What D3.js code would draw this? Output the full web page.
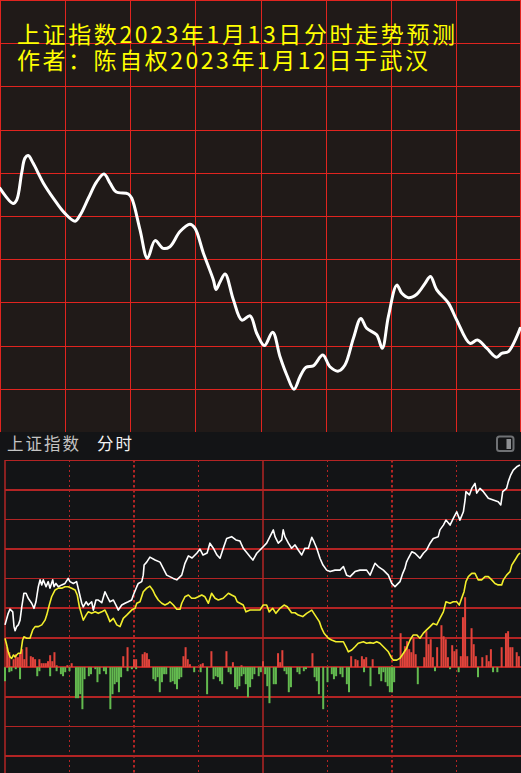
<!DOCTYPE html>
<html><head><meta charset="utf-8">
<script src="https://cdn.jsdelivr.net/npm/d3@7"></script>
<style>html,body{margin:0;padding:0;background:#131416;overflow:hidden}svg{display:block}</style>
</head><body>
<script>
// ---------- DATA ----------
const titleLines = ["上证指数2023年1月13日分时走势预测", "作者：陈自权2023年1月12日于武汉"];
const headerLabels = ["上证指数", "分时"];

// forecast curve (minute, level in grid rows)
const forecastPoints = [[0,5.64],[6.1,5.29],[7.7,5.37],[10,6.00],[11.5,6.34],[13,6.40],[15.3,6.22],[20,5.76],[24.6,5.41],[29.9,5.06],[34.6,4.88],[36.9,5.02],[40.7,5.41],[44.5,5.79],[47.9,5.97],[50.7,5.76],[53.4,5.56],[59.1,5.51],[60.7,5.41],[64.5,4.68],[67.9,4.02],[71.4,4.43],[75.2,4.25],[78.3,4.29],[82.9,4.64],[87.5,4.81],[89.8,4.72],[93.7,4.14],[98.3,3.52],[99.5,3.30],[101.4,3.48],[103.7,3.66],[107.5,3.06],[111.4,2.59],[115.2,2.69],[118.3,2.28],[121.8,2.00],[125.6,2.31],[129,1.74],[132.1,1.32],[135.4,0.99],[138.2,1.28],[141,1.50],[144.3,1.53],[148.7,1.78],[152,1.51],[155.9,1.41],[158.9,1.55],[162.8,2.17],[166.2,2.63],[168.9,2.40],[173.5,2.25],[176.1,1.94],[178.9,2.67],[182.8,3.40],[185.1,3.21],[188.1,3.11],[192,3.19],[195.8,3.44],[198.3,3.60],[201.2,3.29],[206.5,2.99],[210.4,2.59],[216.5,2.05],[219.9,2.13],[224.2,1.94],[228.8,1.73],[231.1,1.82],[234.2,1.86],[239.6,2.40]];

// intraday index line (white)
const priceLine = [[0,4.43],[1.5,4.82],[2.3,4.96],[3.6,4.87],[4.2,4.37],[4.7,4.23],[5.4,4.37],[6.2,4.43],[7,4.59],[7.8,5.04],[8.8,5.50],[9.8,5.50],[10.8,5.33],[12.4,5.16],[13.5,4.99],[14.4,5.21],[15.5,5.72],[16.3,5.95],[17.1,5.78],[17.8,5.95],[19.1,5.72],[20.1,5.89],[20.9,5.67],[22.2,5.95],[22.8,5.72],[23.7,5.83],[24.8,5.72],[26.4,5.78],[27.9,5.83],[29.4,6.00],[30.2,5.89],[31.8,5.83],[33.3,5.89],[34.6,5.50],[35.7,5.16],[36.4,5.04],[37.7,5.21],[38.7,5.10],[40.3,5.21],[41.1,4.93],[42.3,5.27],[43.4,5.27],[45,5.18],[46.5,5.55],[47.6,5.38],[48.8,5.21],[50.4,5.27],[52,5.04],[52.7,4.93],[54.3,5.10],[55.8,5.16],[57.3,5.21],[58.9,5.27],[59.7,5.44],[61.3,5.72],[62,5.83],[63.6,5.89],[64.3,6.11],[64.7,6.45],[65.9,6.55],[67.4,6.72],[69.8,6.62],[72.1,6.55],[73.6,6.34],[75.2,6.11],[78.3,6.00],[79.9,5.95],[82.2,6.11],[83.7,6.51],[85.3,6.76],[87,6.69],[89.3,6.86],[90.7,6.99],[92.1,6.79],[94,6.86],[95.3,7.19],[96.9,7.02],[98.6,6.79],[100,6.68],[101.4,6.99],[103.1,7.35],[105.4,7.41],[107.4,7.30],[109.3,7.26],[110.8,7.02],[112.6,6.86],[114,6.73],[115.3,6.62],[117.1,6.85],[118.6,6.96],[120.1,7.07],[121.7,7.19],[124,7.52],[124.8,7.64],[125.6,7.41],[127.1,7.19],[128.7,7.30],[129.4,7.64],[130.2,7.41],[131.8,7.19],[133.3,7.02],[134.9,7.13],[136.4,6.96],[138,6.79],[139.5,7.02],[141.1,7.02],[142.7,7.39],[143.7,7.24],[145,7.02],[146.5,6.68],[147.9,6.45],[149.6,6.28],[151.2,6.23],[153.5,6.28],[155.8,6.28],[157.4,6.40],[158.9,6.11],[160.5,6.06],[162.8,6.23],[165.1,6.28],[168.2,6.28],[169.8,6.11],[172.1,6.51],[173.6,6.40],[176,6.28],[178.3,6.11],[179.9,5.83],[181.4,5.72],[182.2,5.78],[183.7,5.89],[185,6.17],[186,6.34],[186.8,6.56],[187.6,6.68],[189.2,6.90],[190.7,6.85],[193,6.68],[194.6,6.85],[196.1,6.96],[197.7,7.19],[199.2,7.35],[201.5,7.41],[202.3,7.64],[203.9,7.80],[205.1,7.97],[207,7.80],[208.5,8.03],[210.1,8.25],[211.6,7.97],[213.2,8.25],[214,8.65],[214.4,8.93],[216,8.82],[217.1,9.04],[218.6,9.21],[219.4,8.88],[220.9,9.04],[222.5,8.93],[224.8,8.71],[227.1,8.65],[229.4,8.59],[230.6,8.48],[231.5,8.93],[233.3,9.04],[234.1,9.27],[235.2,9.49],[236.4,9.66],[238,9.77],[239.5,9.83]];

// yellow line
const avgLine = [[0,3.98],[0.8,3.75],[1.5,3.52],[2.3,3.35],[3.1,3.30],[3.9,3.41],[4.7,3.35],[5.4,3.41],[6.2,3.47],[7.3,3.47],[8.2,3.92],[8.8,4.03],[10.1,3.98],[11.6,3.98],[12.9,4.26],[14,4.37],[15.5,4.37],[17.1,4.43],[18.6,4.59],[19.4,4.76],[20.6,5.10],[21.7,5.38],[23.3,5.61],[24.8,5.67],[26.4,5.67],[27.9,5.72],[29.4,5.72],[31,5.67],[32.6,5.61],[33.6,5.44],[34.6,5.04],[35.7,4.76],[36.4,4.59],[37.7,4.76],[38.7,4.87],[40.3,4.82],[41.9,4.87],[43.4,4.82],[45,4.87],[46.5,4.93],[47.6,4.76],[48.8,4.54],[50.4,4.65],[52,4.43],[53.5,4.37],[55,4.65],[56.6,4.76],[58.9,4.93],[60.5,4.99],[61.3,5.16],[62.8,5.21],[64.3,5.55],[65.9,5.67],[67.4,5.74],[68.7,5.61],[69.8,5.44],[71.3,5.27],[72.9,5.16],[74.4,5.10],[76,5.16],[76.7,5.21],[78.3,5.10],[79.9,4.96],[81.4,4.96],[82.2,5.16],[83.7,5.38],[85.3,5.44],[86.8,5.33],[88.4,5.33],[89.9,5.38],[91.5,5.44],[93,5.38],[94.6,5.16],[96.1,5.50],[97.7,5.33],[99.2,5.27],[101.5,5.33],[103.9,5.50],[105.4,5.44],[107,5.38],[108,5.21],[109.3,5.16],[110.8,5.10],[112.1,4.87],[114,4.93],[116.3,4.93],[118.6,4.93],[120.1,5.10],[121.7,5.10],[122.9,4.87],[124.5,4.99],[126,4.82],[127.9,4.99],[129.8,5.10],[131.3,5.04],[133.3,4.84],[134.9,4.84],[136.4,4.76],[138.5,4.71],[140.3,4.82],[142.7,4.93],[144.2,4.76],[146.2,4.54],[147.3,4.31],[148.4,4.15],[150.4,3.98],[151.9,3.92],[153.9,3.86],[155.8,3.86],[157.4,3.86],[158.6,3.69],[159.7,3.52],[161.3,3.58],[162.8,3.69],[164.3,3.81],[166.7,3.86],[168.2,3.81],[169.8,3.83],[171.3,3.81],[172.9,3.86],[174.4,3.81],[176.7,3.64],[178.3,3.52],[179.9,3.30],[180.6,3.24],[182.2,3.24],[183.7,3.30],[185.3,3.47],[186.8,3.64],[188.4,3.92],[189.9,4.09],[191.5,4.09],[193,3.98],[194.6,4.15],[196.1,4.26],[197.7,4.37],[199.2,4.48],[200.8,4.43],[202.3,4.65],[203.9,4.87],[205.1,5.21],[207,5.16],[208.5,5.21],[210.1,5.21],[211.3,5.10],[212.4,5.33],[213.5,5.55],[214.4,5.89],[215.5,6.06],[217.1,6.17],[218.6,6.17],[220.1,5.95],[221.7,5.95],[223.3,6.06],[224.8,6.06],[226.4,5.95],[227.9,5.83],[229.4,5.78],[231,5.78],[231.8,5.95],[233.3,6.11],[234.9,6.23],[235.7,6.45],[237.2,6.62],[238.6,6.79],[239.5,6.86]];

// red (up) and green (down) bars: minute and strength
const upMinutes = [1,2,4,5,6,7,8,9,10,12,13,14,16,17,18,19,20,21,22,23,24,29,31,55,57,60,61,64,65,66,67,83,84,85,86,91,92,96,103,106,110,120,127,128,129,143,161,163,164,166,167,168,171,184,185,186,187,188,189,190,191,195,196,197,198,199,201,203,204,205,206,208,209,210,212,213,214,215,217,218,219,222,224,225,226,231,233,234,235,236,238,239];
const upValues  = [20,15,8,13,10,14,18,8,20,11,10,8,8,4,4,4,6,12,6,15,2,2,4,11,20,8,8,13,15,14,8,11,20,8,3,3,4,16,16,5,2,6,14,5,17,14,11,8,7,11,8,10,8,34,13,21,26,18,15,30,13,10,36,23,28,10,20,42,31,28,10,22,16,18,11,50,70,11,39,23,11,10,12,6,18,20,34,36,20,20,15,11];
const downMinutes = [0,2,3,5,7,15,16,21,24,26,27,28,30,33,34,35,36,37,39,40,42,43,44,46,47,49,50,51,52,53,54,57,59,61,69,70,71,72,73,74,75,77,78,79,80,81,82,88,91,94,97,98,99,100,101,104,105,107,108,109,110,111,112,113,114,115,116,118,119,121,122,123,125,126,130,131,132,133,136,137,139,140,144,145,146,148,150,152,153,154,156,157,159,160,167,170,174,175,176,177,178,179,180,181,192,200,207,211,220,227,229];
const downValues  = [14,5,4,2,12,9,4,9,4,7,9,5,4,31,31,27,42,12,9,7,2,15,7,4,7,42,27,17,15,25,10,4,2,2,12,14,10,25,15,7,7,15,14,17,22,12,10,5,5,27,12,9,10,14,17,5,7,20,22,19,9,7,17,30,20,12,7,9,5,7,19,36,17,17,4,7,25,20,5,7,4,2,10,14,27,42,15,7,12,9,7,10,17,25,5,19,7,14,5,15,19,25,25,15,17,4,2,5,10,5,5];

// ---------- DRAW ----------
const W = 521, H = 773;
const svg = d3.select("body").append("svg").attr("width", W).attr("height", H);

// ===== top forecast panel =====
const topH = 432;
svg.append("rect").attr("x",0).attr("y",0).attr("width",W).attr("height",topH).attr("fill","#201a18");
const xTop = d3.scaleLinear().domain([0,240]).range([0,W]);
const yTop = d3.scaleLinear().domain([0,10]).range([topH,0]);
const gTop = svg.append("g");
const topGridColor = "#e0241f";
d3.range(0,241,30).forEach(t=>{
  const x = Math.min(W-0.5, Math.round(xTop(t))+0.5);
  gTop.append("line").attr("x1",x).attr("x2",x).attr("y1",0).attr("y2",topH).attr("stroke",topGridColor).attr("stroke-width",1);
});
d3.range(1,11).forEach(v=>{
  const y = Math.round(yTop(v))+0.5;
  gTop.append("line").attr("x1",0).attr("x2",W).attr("y1",y).attr("y2",y).attr("stroke",topGridColor).attr("stroke-width",1);
});
gTop.append("path").datum(forecastPoints)
  .attr("d", d3.line().x(d=>xTop(d[0])).y(d=>yTop(d[1])).curve(d3.curveCatmullRom.alpha(0.5)))
  .attr("fill","none").attr("stroke","#ffffff").attr("stroke-width",3).attr("stroke-linejoin","round").attr("stroke-linecap","round");

const titleLen = [438, 411];
titleLines.forEach((s,i)=>{
  svg.append("text").attr("x",17).attr("y",43+i*25.5)
    .attr("font-family","'Noto Sans CJK SC', sans-serif").attr("font-size",23)
    .attr("fill","#ffff00").attr("textLength",titleLen[i]).attr("lengthAdjust","spacing")
    .text(s);
});

// ===== bottom intraday panel =====
svg.append("rect").attr("x",0).attr("y",topH).attr("width",W).attr("height",H-topH).attr("fill","#131416");
svg.append("text").attr("x",7).attr("y",450).attr("font-family","'Noto Sans CJK SC', sans-serif")
  .attr("font-size",16.5).attr("letter-spacing",2).attr("fill","#c4c4c4").text(headerLabels[0]);
svg.append("text").attr("x",97).attr("y",450).attr("font-family","'Noto Sans CJK SC', sans-serif")
  .attr("font-size",16.5).attr("letter-spacing",2).attr("fill","#f2f2f2").text(headerLabels[1]);
// panel toggle icon
svg.append("rect").attr("x",497).attr("y",436.5).attr("width",16.5).attr("height",14.5).attr("rx",2.5)
  .attr("fill","none").attr("stroke","#6f7174").attr("stroke-width",2);
svg.append("rect").attr("x",506.5).attr("y",439).attr("width",4.5).attr("height",10).attr("fill","#8d8f92");

const xB = d3.scaleLinear().domain([0,240]).range([5,W]);
const yB = d3.scaleLinear().domain([0,10]).range([756,460]);
const yBar = d3.scaleLinear().domain([-50,100]).range([yB(3)+50, yB(3)-100]);
const gridRed = "#b32424";
const gB = svg.append("g");
const thickRows = new Set([1,3,5,6,7,8,10]);
d3.range(0,11).forEach(k=>{
  const v = 10-k;
  const thick = thickRows.has(k);
  const y = thick ? Math.round(yB(v)) : Math.round(yB(v))+0.5;
  gB.append("line").attr("x1",5).attr("x2",W).attr("y1",y).attr("y2",y)
    .attr("stroke",gridRed).attr("stroke-width",thick?2:1);
});
d3.range(0,240,30).forEach(t=>{
  const x = xB(t);
  let sw = 1, dash = "2,3";
  if (t===0 || t===120) { sw = 1.5; dash = null; }
  else if (t===60 || t===180) { sw = 2; dash = "2.5,2.5"; }
  const ln = gB.append("line").attr("x1",x).attr("x2",x).attr("y1",460).attr("y2",H)
    .attr("stroke",gridRed).attr("stroke-width",sw);
  if (dash) ln.attr("stroke-dasharray",dash);
});

// bars
const bw = 2;
const gBars = svg.append("g");
gBars.selectAll("rect.up").data(d3.zip(upMinutes, upValues)).join("rect")
  .attr("x",d=>xB(d[0])-bw/2).attr("width",bw)
  .attr("y",d=>yBar(d[1])).attr("height",d=>yBar(0)-yBar(d[1])).attr("fill","#e2433b");
gBars.selectAll("rect.down").data(d3.zip(downMinutes, downValues)).join("rect")
  .attr("x",d=>xB(d[0])-bw/2).attr("width",bw)
  .attr("y",yBar(0)).attr("height",d=>yBar(-d[1])-yBar(0)).attr("fill","#63ba4f");

// lines
const lineB = d3.line().x(d=>xB(d[0])).y(d=>yB(d[1]));
svg.append("path").datum(avgLine).attr("d",lineB).attr("fill","none")
  .attr("stroke","#f2ee2c").attr("stroke-width",1.6).attr("stroke-linejoin","round");
svg.append("path").datum(priceLine).attr("d",lineB).attr("fill","none")
  .attr("stroke","#ffffff").attr("stroke-width",1.6).attr("stroke-linejoin","round");
</script>
</body></html>
